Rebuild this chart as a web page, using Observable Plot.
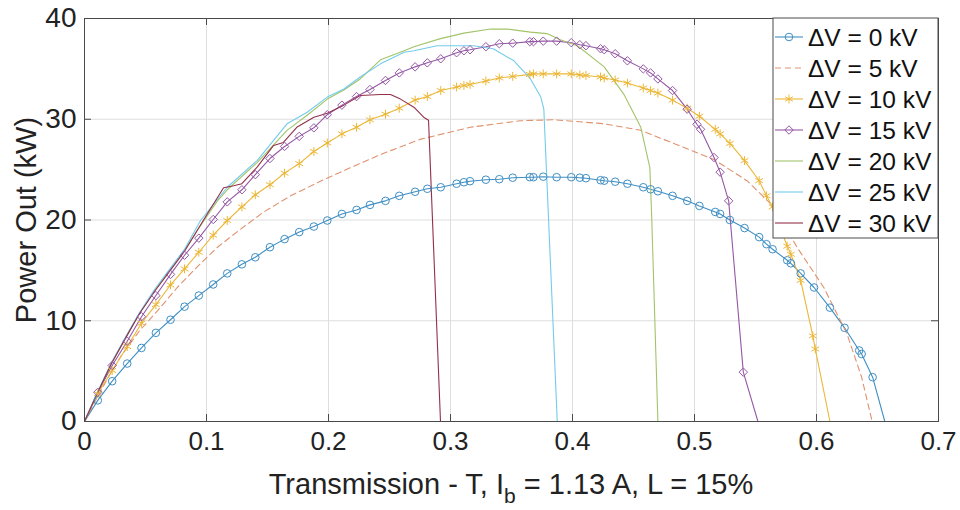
<!DOCTYPE html>
<html><head><meta charset="utf-8">
<script src="https://cdn.jsdelivr.net/npm/d3@7"></script>
<script src="https://cdn.jsdelivr.net/npm/@observablehq/plot@0.6"></script>
<style>
body{margin:0;background:#fff;}
#chart{width:960px;height:510px;}
</style>
</head><body><div id="chart"></div>
<script>
// ---------- data ----------
const seriesNames = ["ΔV = 0 kV","ΔV = 5 kV","ΔV = 10 kV","ΔV = 15 kV","ΔV = 20 kV","ΔV = 25 kV","ΔV = 30 kV"];
const seriesColors = ["#3f8fc4","#e0916e","#ecb736","#9558a5","#a2c46a","#74cbec","#93304a"];
const seriesMarkers = ["circle", null, "asterisk", "diamond2", null, null, null];
const seriesDash = [null, "6,4", null, null, null, null, null];

const xTicks = [0, 0.1, 0.2, 0.3, 0.4, 0.5, 0.6, 0.7];
const yTicks = [0, 10, 20, 30, 40];
const xTitle = "Transmission - T, I";
const xTitleSub = "b";
const xTitleRest = " = 1.13 A, L = 15%";
const yTitle = "Power Out (kW)";

// ΔV = 0 kV
const t0 = [0,0.0109,0.0227,0.035,0.0467,0.0585,0.0705,0.082,0.0937,0.1055,0.117,0.129,0.140,0.152,0.164,0.176,0.188,0.199,0.211,0.223,0.234,0.2467,0.258,0.271,0.281,0.292,0.305,0.311,0.316,0.329,0.340,0.351,0.365,0.368,0.376,0.387,0.399,0.406,0.411,0.423,0.426,0.435,0.445,0.458,0.464,0.470,0.482,0.494,0.504,0.517,0.521,0.529,0.541,0.553,0.559,0.564,0.576,0.579,0.587,0.598,0.611,0.623,0.635,0.637,0.646,0.656];
const p0 = [0,2.1,4.0,5.75,7.3,8.8,10.1,11.4,12.5,13.6,14.7,15.6,16.3,17.3,18.1,18.8,19.35,19.95,20.6,21.0,21.5,21.9,22.4,22.8,23.1,23.25,23.6,23.75,23.85,24.0,24.05,24.2,24.25,24.25,24.3,24.25,24.25,24.2,24.15,23.95,23.9,23.8,23.6,23.25,23.05,22.85,22.4,21.9,21.4,20.8,20.6,20.0,19.2,18.3,17.6,17.1,16.0,15.7,14.7,13.3,11.3,9.3,7.05,6.7,4.4,0];
// ΔV = 5 kV
const t5 = [0,0.01,0.02,0.03,0.045,0.06,0.076,0.092,0.109,0.128,0.147,0.169,0.196,0.22,0.2426,0.275,0.316,0.357,0.385,0.426,0.456,0.483,0.516,0.543,0.565,0.584,0.606,0.625,0.637,0.6456];
const p5 = [0,2.3,4.5,6.5,9.0,11.0,13.3,15.3,17.3,19.1,20.8,22.4,24.0,25.3,26.5,28.0,29.2,29.85,29.95,29.55,28.9,27.6,26.0,23.9,21.3,17.3,13.3,8.7,4.4,0];
// ΔV = 10 kV
const t10 = [0,0.0109,0.0227,0.035,0.0467,0.0585,0.0705,0.082,0.0937,0.1055,0.117,0.129,0.140,0.152,0.164,0.176,0.188,0.199,0.211,0.223,0.234,0.2467,0.258,0.271,0.281,0.292,0.305,0.311,0.316,0.329,0.340,0.351,0.365,0.368,0.376,0.387,0.399,0.406,0.411,0.423,0.426,0.435,0.445,0.458,0.464,0.470,0.482,0.494,0.504,0.517,0.521,0.529,0.541,0.553,0.559,0.564,0.576,0.579,0.587,0.597,0.599,0.611];
const p10 = [0,2.75,5.06,7.44,9.76,11.6,13.55,15.15,16.8,18.5,19.95,21.3,22.5,23.5,24.65,25.6,26.8,27.65,28.55,29.2,29.95,30.5,31.1,31.9,32.25,32.85,33.2,33.35,33.45,33.8,34.1,34.25,34.45,34.5,34.5,34.5,34.5,34.4,34.35,34.2,34.1,33.9,33.6,33.1,32.85,32.6,31.9,31.1,30.3,29.0,28.55,27.6,25.9,23.9,22.4,21.3,17.4,16.6,14.0,8.5,7.2,0];
// ΔV = 15 kV
const t15 = [0,0.0109,0.0227,0.035,0.0467,0.0585,0.0705,0.082,0.0937,0.1055,0.117,0.129,0.140,0.152,0.164,0.176,0.188,0.199,0.211,0.223,0.234,0.2467,0.258,0.271,0.281,0.292,0.305,0.311,0.316,0.329,0.340,0.351,0.365,0.368,0.376,0.387,0.399,0.406,0.411,0.423,0.426,0.435,0.445,0.458,0.464,0.470,0.482,0.494,0.502,0.505,0.516,0.521,0.528,0.540,0.552];
const p15 = [0,2.9,5.56,7.97,10.4,12.5,14.6,16.5,18.2,20.05,21.8,23.0,24.5,26.1,27.3,28.3,29.15,30.45,31.4,32.25,32.95,33.85,34.6,35.2,35.6,36.0,36.6,36.8,36.9,37.2,37.5,37.55,37.7,37.7,37.75,37.75,37.6,37.4,37.3,37.0,36.9,36.5,35.8,35.0,34.6,34.0,32.85,31.0,29.5,29.0,26.2,24.75,21.9,4.9,0];
// ΔV = 20 kV
const t20 = [0,0.0109,0.0219,0.0342,0.045,0.0574,0.0697,0.082,0.0943,0.109,0.117,0.1415,0.166,0.1825,0.199,0.2126,0.226,0.2426,0.262,0.27,0.2918,0.311,0.333,0.3465,0.3656,0.379,0.39,0.404,0.426,0.442,0.456,0.4634,0.465,0.47];
const p20 = [0,2.9,5.7,8.4,10.7,13.0,15.0,17.0,19.3,21.9,23.0,25.7,28.9,30.4,32.0,32.9,34.0,35.9,36.8,37.2,38.0,38.55,38.95,38.95,38.65,38.5,37.9,37.3,35.2,32.5,29.2,25.2,20.0,0];
// ΔV = 25 kV
const t25 = [0,0.0109,0.0219,0.0342,0.045,0.0574,0.0697,0.082,0.0951,0.117,0.1415,0.166,0.1825,0.199,0.2126,0.226,0.2426,0.262,0.27,0.289,0.319,0.335,0.352,0.3656,0.374,0.3765,0.3875];
const p25 = [0,3.0,5.8,8.5,10.8,13.1,15.1,17.1,19.95,23.25,25.9,29.55,30.7,32.2,33.0,34.2,35.5,36.65,36.8,37.3,37.3,37.0,35.8,34.0,32.2,31.0,0];
// ΔV = 30 kV
const t30 = [0,0.0109,0.0219,0.0342,0.045,0.0574,0.0697,0.082,0.1006,0.114,0.1224,0.129,0.1415,0.155,0.163,0.174,0.188,0.199,0.2126,0.226,0.2426,0.2508,0.259,0.27,0.278,0.282,0.2918];
const p30 = [0,2.9,5.7,8.4,10.7,12.9,14.9,16.9,20.6,23.2,23.4,23.6,25.25,27.4,27.7,29.2,30.2,30.6,31.4,32.35,32.45,32.45,32.0,31.2,30.2,29.9,0];

const seriesT = [t0,t5,t10,t15,t20,t25,t30];
const seriesP = [p0,p5,p10,p15,p20,p25,p30];

// ---------- build ----------
const W = 960, H = 510;
const mL = 84, mR = 22, mT = 18, mB = 89;
const frameH = H - mT - mB, frameW = W - mL - mR;
const tickLen = 7;
const font = "'Liberation Sans', Arial, Helvetica, sans-serif";
const gridColor = "#dedede";
const axisColor = "#4a4a4a";

const series = seriesNames.map((name, k) => ({
  name, color: seriesColors[k], marker: seriesMarkers[k], dash: seriesDash[k],
  rows: seriesT[k].map((t, i) => ({T: t, P: seriesP[k][i]}))
}));

const marks = [
  Plot.gridX(xTicks.slice(1, -1), {stroke: gridColor, strokeOpacity: 1, strokeWidth: 1}),
  Plot.gridY(yTicks.slice(1, -1), {stroke: gridColor, strokeOpacity: 1, strokeWidth: 1}),
];

for (const s of series) {
  marks.push(Plot.line(s.rows, {x: "T", y: "P", stroke: s.color, strokeWidth: 1.1,
    strokeDasharray: s.dash || undefined, curve: "linear"}));
}
for (const s of series) {
  if (!s.marker) continue;
  const pts = s.rows.filter(d => d.P > 0);
  marks.push(Plot.dot(pts, {x: "T", y: "P", symbol: s.marker, r: s.marker === "asterisk" ? 4.2 : 3.8,
    stroke: s.color, fill: "none", strokeWidth: 1}));
}

marks.push(
  Plot.tickX(xTicks, {x: d => d, insetTop: frameH - tickLen, stroke: axisColor}),
  Plot.tickX(xTicks, {x: d => d, insetBottom: frameH - tickLen, stroke: axisColor}),
  Plot.tickY(yTicks, {y: d => d, insetRight: frameW - tickLen, stroke: axisColor}),
  Plot.tickY(yTicks, {y: d => d, insetLeft: frameW - tickLen, stroke: axisColor}),
  Plot.frame({stroke: axisColor, strokeWidth: 1}),
  Plot.axisX({ticks: xTicks, tickSize: 0, tickPadding: 10, fontSize: 26, label: null, tickFormat: d => String(d), fill: "#222"}),
  Plot.axisY({ticks: yTicks, tickSize: 0, tickPadding: 8, fontSize: 28, label: null, tickFormat: d => String(d), fill: "#222"}),
  Plot.text([yTitle], {frameAnchor: "left", dx: -58, rotate: -90, textAnchor: "middle", fontSize: 29, fill: "#222", text: d => d})
);

const plot = Plot.plot({
  width: W, height: H,
  marginLeft: mL, marginRight: mR, marginTop: mT, marginBottom: mB,
  x: {domain: [0, 0.7]},
  y: {domain: [0, 40]},
  style: {fontFamily: font, background: "#fff", overflow: "visible"},
  marks
});
document.getElementById("chart").appendChild(plot);

// ---------- x-axis title with subscript ----------
const svg = d3.select(plot);
const xt = svg.append("text")
  .attr("x", mL + frameW / 2).attr("y", 494)
  .attr("text-anchor", "middle")
  .attr("font-family", font).attr("font-size", 29).attr("fill", "#222");
xt.append("tspan").text(xTitle);
xt.append("tspan").text(xTitleSub).attr("font-size", 21).attr("dy", 9);
xt.append("tspan").text(xTitleRest).attr("dy", -9);

// ---------- legend ----------
const lgX = 773, lgY = 18, lgW = W - mR - lgX, lgH = 220, rowH = 31, row0 = 19;
const lg = svg.append("g");
lg.append("rect").attr("x", lgX).attr("y", lgY).attr("width", lgW).attr("height", lgH)
  .attr("fill", "#fff").attr("stroke", axisColor).attr("stroke-width", 1);
const symMap = {circle: d3.symbolCircle, asterisk: d3.symbolAsterisk, diamond2: d3.symbolDiamond2};
series.forEach((s, i) => {
  const cy = lgY + row0 + i * rowH;
  lg.append("line").attr("x1", lgX + 2).attr("x2", lgX + 30).attr("y1", cy).attr("y2", cy)
    .attr("stroke", s.color).attr("stroke-width", 1.1)
    .attr("stroke-dasharray", s.dash || null);
  if (s.marker) {
    const r = s.marker === "asterisk" ? 4.2 : 3.8;
    lg.append("path").attr("d", d3.symbol(symMap[s.marker], r * r * Math.PI)())
      .attr("transform", `translate(${lgX + 16},${cy})`)
      .attr("fill", "none").attr("stroke", s.color).attr("stroke-width", 1);
  }
  lg.append("text").attr("x", lgX + 35).attr("y", cy).attr("dy", "0.35em")
    .attr("text-anchor", "start")
    .attr("font-family", font).attr("font-size", 24.5).attr("fill", "#111").text(s.name);
});
</script>
</body></html>
